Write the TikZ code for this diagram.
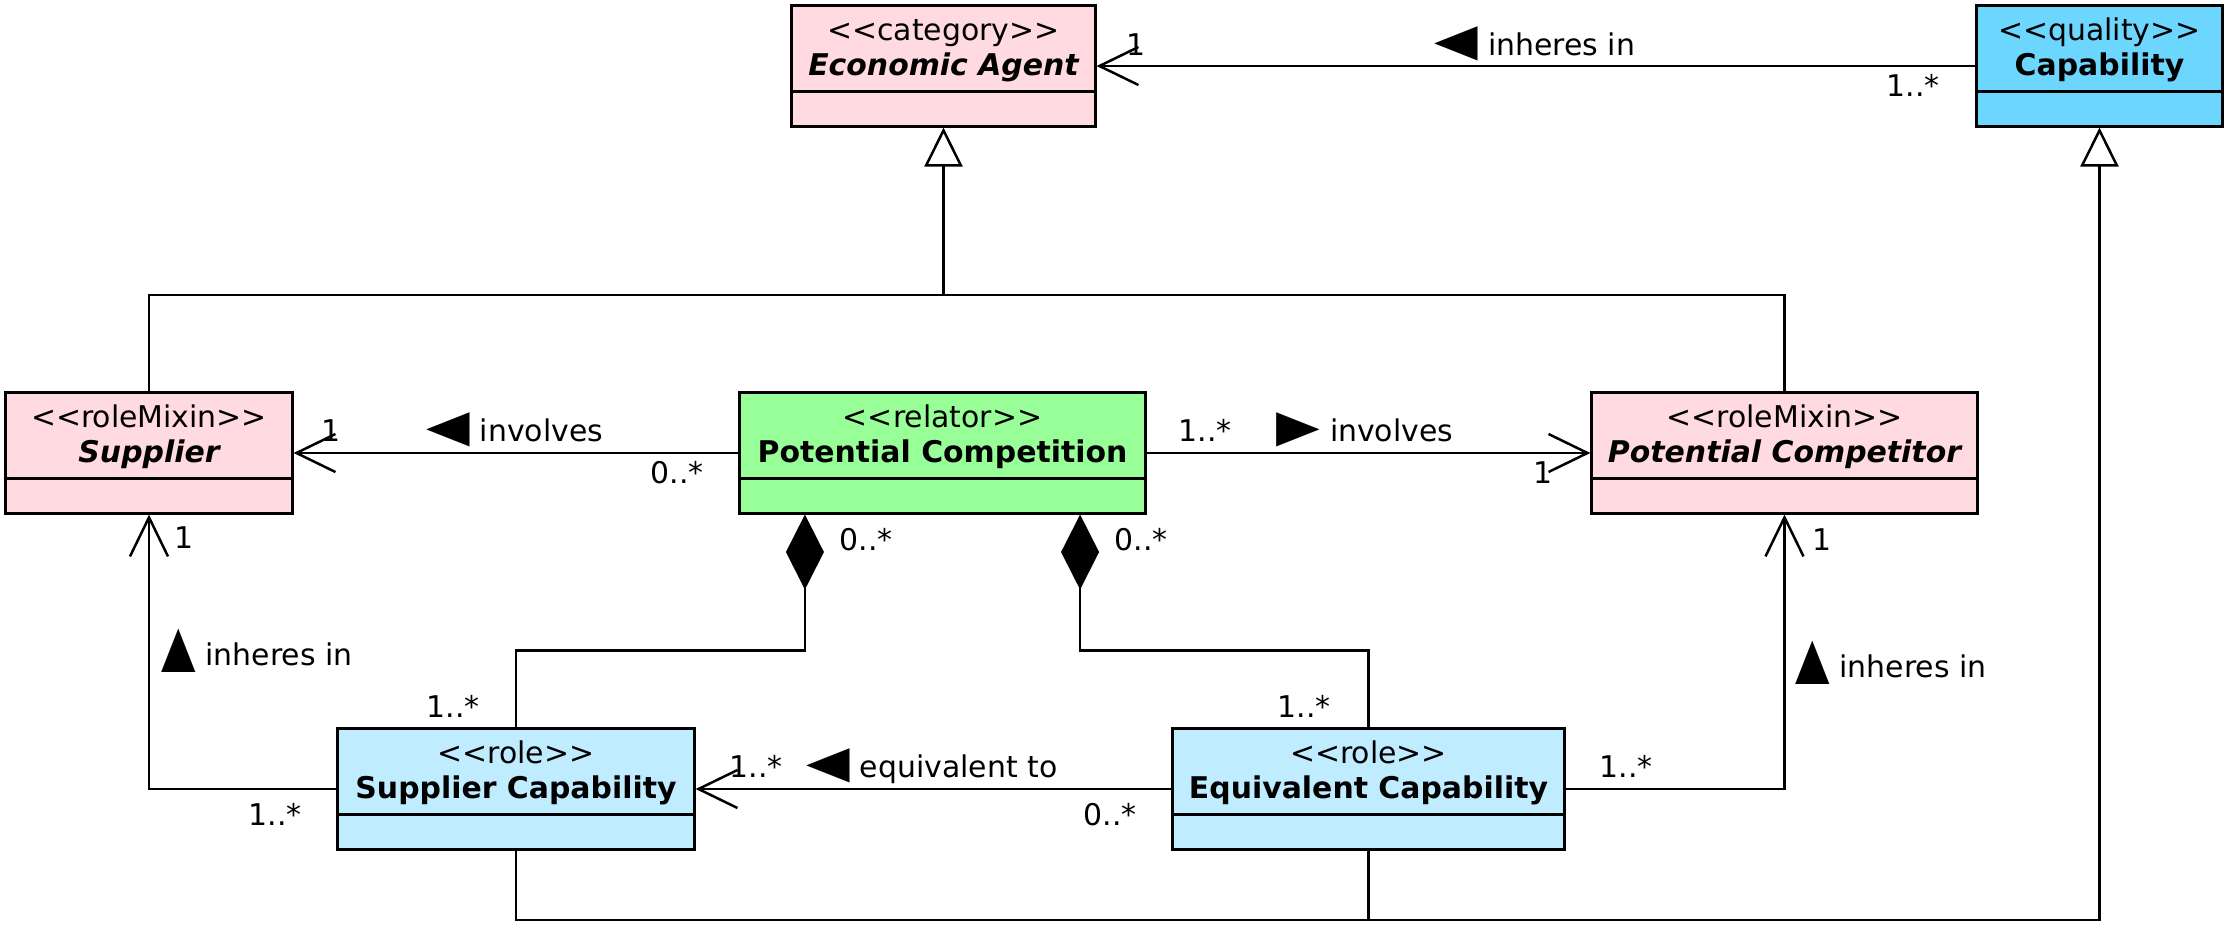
\documentclass[tikz,border=0pt]{standalone}
\usepackage{fontspec}
\newfontfamily\umlfont{DejaVu Sans}
\usetikzlibrary{arrows.meta}
\usetikzlibrary{positioning}
\usetikzlibrary{calc}

\definecolor{kindpink}{RGB}{255,218,224}
\definecolor{qualblue}{RGB}{109,214,255}
\definecolor{roleblue}{RGB}{192,236,255}
\definecolor{relgreen}{RGB}{152,255,152}

\begin{document}
\begin{tikzpicture}[x=0.01cm, y=-0.01cm,
    every node/.style={font=\umlfont\fontsize{8.5}{10}\selectfont},
    umlclass/.style={draw=black, line width=0.03cm, minimum height=1.2cm, inner sep=0pt},
    stereo/.style={anchor=base, inner sep=0pt},
    cname/.style={anchor=base, inner sep=0pt, font=\umlfont\fontsize{8.5}{10}\selectfont\bfseries},
    mult/.style={anchor=base, inner sep=0pt},
    link/.style={line width=0.025cm},
    assoc/.style={link, -{Straight Barb[length=0.39cm, width=0.38cm]}},
    specialize/.style={link, -{Triangle[open, length=0.39cm, width=0.38cm, fill=white]}},
    compose/.style={link, {Diamond[length=0.75cm, width=0.38cm]}-}]

  \useasboundingbox (0,0) rectangle (2235,933);

  % Reading direction marks
  \def\readleft{\scalebox{1.9}[1.5]{◀}}
  \def\readright{\scalebox{1.9}[1.5]{▶}}
  \def\readup{\scalebox{1.5}[1.9]{▲}}

  % Classes: name/centre x/centre y/width/colour
  \foreach \n/\cx/\cy/\w/\c in {ea/943.5/66/3.03/kindpink, cap/2099.5/66/2.45/qualblue,
      sup/149/453/2.86/kindpink, pcn/942.5/453/4.05/relgreen, pcr/1784.5/453/3.85/kindpink,
      scap/516/789/3.56/roleblue, ecap/1368.5/789/3.91/roleblue} {
    \node[umlclass, fill=\c, minimum width=\w cm] (\n) at (\cx,\cy) {};
    \draw[line width=0.03cm] ([yshift=0.36cm]\n.south west) -- ([yshift=0.36cm]\n.south east);
  }

  % Stereotypes and class names
  \foreach \n/\s/\t in {ea/category/\itshape Economic Agent, cap/quality/Capability,
      sup/roleMixin/\itshape Supplier, pcn/relator/Potential Competition,
      pcr/roleMixin/\itshape Potential Competitor, scap/role/Supplier Capability,
      ecap/role/Equivalent Capability} {
    \node[stereo] (\n-s) at ([yshift=-0.36cm]\n.north) {<<\s>>};
    \node[cname] (\n-t) at ([yshift=-0.71cm]\n.north) {\t};
  }

  % Associations
  \draw[assoc] (cap) -- (ea);
  \draw[assoc] (pcn) -- (sup);
  \draw[assoc] (pcn) -- (pcr);
  \draw[assoc] (ecap) -- (scap);
  \draw[assoc] (scap.west) -| (sup.south);
  \draw[assoc] (ecap.east) -| (pcr.south);

  % Compositions
  \draw[compose] ([xshift=-1.375cm]pcn.south) -- ++(0,136) -| (scap.north);
  \draw[compose] ([xshift=1.375cm]pcn.south) -- ++(0,136) -| (ecap.north);

  % Generalizations
  \coordinate (gtop) at (943.5,295);
  \draw[specialize] (sup.north) |- (gtop) -- (ea.south);
  \draw[link] (pcr.north) |- (gtop);
  \coordinate (gbot) at (2099.5,920);
  \draw[specialize] (scap.south) |- (gbot) -- (cap.south);
  \draw[link] (ecap.south) -- (ecap.south |- gbot);

  % Multiplicities and association names
  \foreach \n/\lx/\ly/\t in {m-ea/1136/55/1, n-ea/1535/55/{\readleft{} inheres in}, m-cap/1913/96/1..*,
      m-sup/331/441/1, n-sup/515/441/{\readleft{} involves}, m-pcl/677/483/0..*,
      m-pcn/1205/441/1..*, n-pcr/1365/441/{\readright{} involves}, m-pcr/1543/483/1,
      m-k1/866/550/0..*, m-k2/1141/550/0..*, m-sc1/453/717/1..*, m-ec1/1304/717/1..*,
      m-sc2/756/777/1..*, n-eq/932/777/{\readleft{} equivalent to}, m-ec2/1110/825/0..*,
      m-sup2/184/548/1, n-inh1/257/665/{\readup{} inheres in}, m-sc3/275/825/1..*,
      m-ec3/1626/777/1..*, m-pcr2/1822/550/1, n-inh2/1891/677/{\readup{} inheres in}}
    \node[mult] (\n) at (\lx,\ly) {\t};

\end{tikzpicture}
\end{document}
